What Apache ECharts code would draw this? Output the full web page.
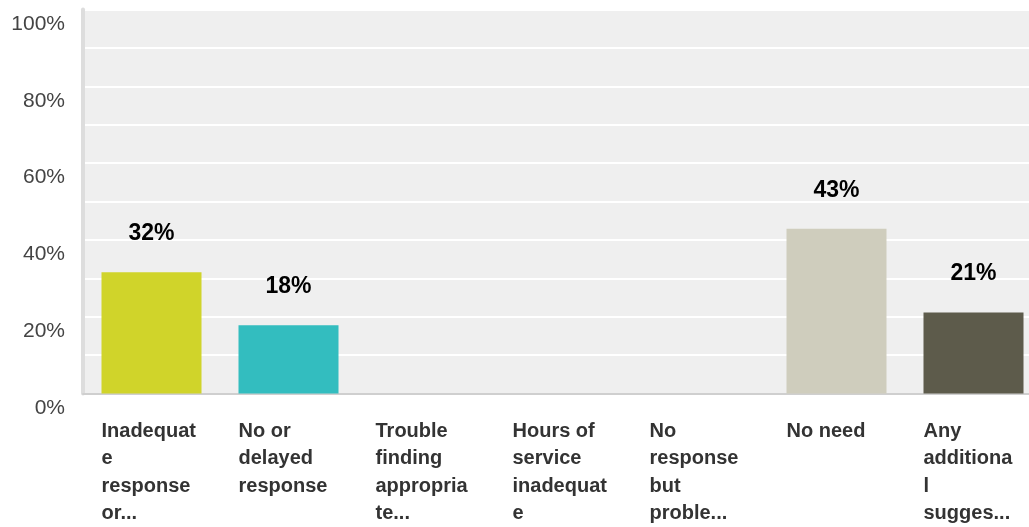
<!DOCTYPE html>
<html>
<head>
<meta charset="utf-8">
<script src="https://cdn.jsdelivr.net/npm/echarts@6/dist/echarts.min.js"></script>
<style>
html,body{margin:0;padding:0;background:#fff;}
#chart{width:1029px;height:527px;}
</style>
</head>
<body>
<div id="chart"></div>
<script>
const categories = [
  "Inadequat\ne\nresponse\nor...",
  "No or\ndelayed\nresponse",
  "Trouble\nfinding\nappropria\nte...",
  "Hours of\nservice\ninadequat\ne",
  "No\nresponse\nbut\nproble...",
  "No need",
  "Any\nadditiona\nl\nsugges..."
];
const values = [31.6, 17.8, 0, 0, 0, 42.9, 21.1];
const barColors = ["#D0D42A", "#33BDBF", "#CFCDBD", "#CFCDBD", "#CFCDBD", "#CFCDBD", "#5D5B4B"];
const yTicks = [0, 20, 40, 60, 80, 100];

const chart = echarts.init(document.getElementById('chart'), null, {renderer: 'canvas'});
chart.setOption({
  animation: false,
  backgroundColor: '#ffffff',
  grid: {
    left: 83, top: 9.5, bottom: 133.5, width: 959,
    outerBoundsMode: 'none',
    containLabel: false,
    show: true, backgroundColor: '#EFEFEF', borderWidth: 0
  },
  xAxis: {
    type: 'category',
    data: categories,
    axisLine: {show: true, lineStyle: {color: '#CFCFCF', width: 2}},
    axisTick: {show: false},
    axisLabel: {
      interval: 0,
      margin: 24,
      align: 'center',
      verticalAlign: 'top',
      formatter: function (v) {
        return v.split('\n').map(function (s) { return '{a|' + s + '}'; }).join('\n');
      },
      rich: {
        a: {
          width: 100, align: 'left', fontSize: 20, fontWeight: 'bold',
          fontFamily: '"Liberation Sans", Arial, sans-serif',
          color: '#333333', lineHeight: 27.5
        }
      }
    }
  },
  yAxis: {
    type: 'value',
    min: 0, max: 100, interval: 10,
    axisLine: {show: true, lineStyle: {color: '#DDDDDD', width: 4}},
    axisTick: {show: false},
    splitLine: {show: true, lineStyle: {color: '#FFFFFF', width: 2}},
    axisLabel: {
      margin: 18,
      fontSize: 21,
      lineHeight: 21,
      padding: [4, 0, 0, 0],
      verticalAlign: 'top',
      fontFamily: '"Liberation Sans", Arial, sans-serif',
      color: '#444444',
      formatter: function (v) { return yTicks.indexOf(v) >= 0 ? v + '%' : ''; }
    }
  },
  series: [{
    type: 'bar',
    barWidth: 100,
    data: values.map(function (v, i) {
      return {value: v, itemStyle: {color: barColors[i]}, label: {show: v > 0}};
    }),
    label: {
      show: true,
      position: 'top',
      distance: 27,
      fontSize: 23,
      lineHeight: 23,
      fontWeight: 'bold',
      fontFamily: '"Liberation Sans", Arial, sans-serif',
      color: '#000000',
      formatter: function (p) { return Math.round(p.value) + '%'; }
    }
  }]
});
</script>
</body>
</html>
